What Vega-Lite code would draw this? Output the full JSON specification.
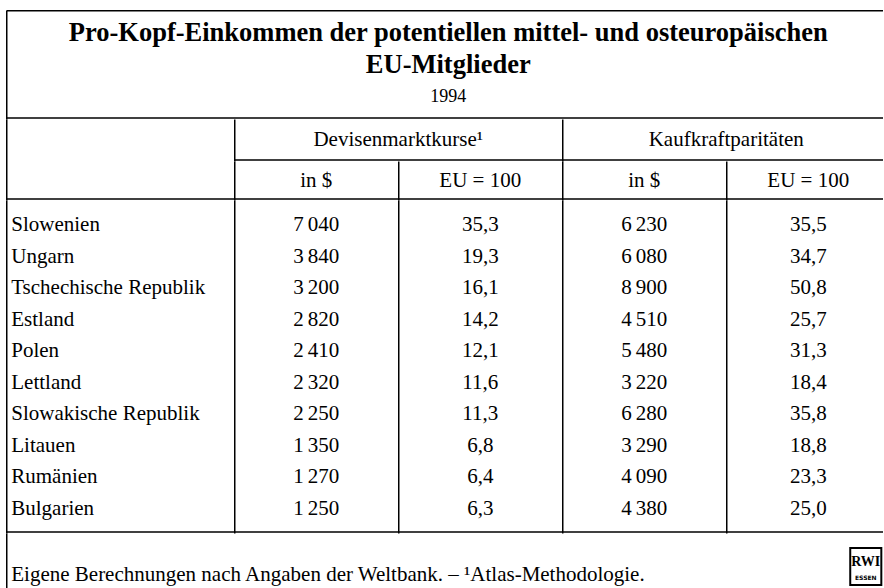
{
  "$schema": "https://vega.github.io/schema/vega-lite/v6.json",
  "background": "white",
  "padding": {"left": 6.25, "top": 10, "right": -7, "bottom": 0},
  "spacing": 0,
  "bounds": "full",
  "datasets": {
    "laender": [
      {"land": "Slowenien", "DM_USD": 7040, "DM_EU": 35.3, "KKP_USD": 6230, "KKP_EU": 35.5},
      {"land": "Ungarn", "DM_USD": 3840, "DM_EU": 19.3, "KKP_USD": 6080, "KKP_EU": 34.7},
      {"land": "Tschechische Republik", "DM_USD": 3200, "DM_EU": 16.1, "KKP_USD": 8900, "KKP_EU": 50.8},
      {"land": "Estland", "DM_USD": 2820, "DM_EU": 14.2, "KKP_USD": 4510, "KKP_EU": 25.7},
      {"land": "Polen", "DM_USD": 2410, "DM_EU": 12.1, "KKP_USD": 5480, "KKP_EU": 31.3},
      {"land": "Lettland", "DM_USD": 2320, "DM_EU": 11.6, "KKP_USD": 3220, "KKP_EU": 18.4},
      {"land": "Slowakische Republik", "DM_USD": 2250, "DM_EU": 11.3, "KKP_USD": 6280, "KKP_EU": 35.8},
      {"land": "Litauen", "DM_USD": 1350, "DM_EU": 6.8, "KKP_USD": 3290, "KKP_EU": 18.8},
      {"land": "Rumänien", "DM_USD": 1270, "DM_EU": 6.4, "KKP_USD": 4090, "KKP_EU": 23.3},
      {"land": "Bulgarien", "DM_USD": 1250, "DM_EU": 6.3, "KKP_USD": 4380, "KKP_EU": 25.0}
    ]
  },
  "vconcat": [
    {
      "width": 884,
      "height": 109,
      "data": {"values": [
        {"zeile": "1", "text": "Pro-Kopf-Einkommen der potentiellen mittel- und osteuropäischen"},
        {"zeile": "2", "text": "EU-Mitglieder"},
        {"zeile": "3", "text": "1994"}
      ]},
      "layer": [
        {
          "transform": [{"filter": "datum.zeile != '3'"}],
          "mark": {"type": "text", "fontSize": 26.5, "fontWeight": "bold"},
          "encoding": {
            "x": {"datum": "Titel", "type": "nominal", "bandPosition": 0.5,
                  "scale": {"type": "band", "paddingInner": 0, "paddingOuter": 0},
                  "axis": {"orient": "top", "offset": -0.25, "domain": true, "grid": true, "bandPosition": 0, "title": null}},
            "y": {"field": "zeile", "type": "nominal",
                  "scale": {"type": "point", "domain": ["1", "2", "3"], "padding": 0.703, "align": 0.511},
                  "axis": null},
            "text": {"field": "text"}
          }
        },
        {
          "transform": [{"filter": "datum.zeile == '3'"}],
          "mark": {"type": "text", "fontSize": 18},
          "encoding": {
            "x": {"datum": "Titel", "type": "nominal", "bandPosition": 0.5,
                  "axis": {"orient": "bottom", "offset": -1.5, "domain": true, "grid": false, "title": null}},
            "y": {"field": "zeile", "type": "nominal"},
            "text": {"field": "text"}
          }
        }
      ],
      "resolve": {"axis": {"x": "independent"}}
    },
    {
      "hconcat": [
        {
          "width": 228,
          "height": 81,
          "data": {"values": [{"spalte": "Land", "kopf": ""}]},
          "mark": "text",
          "encoding": {
            "x": {"field": "spalte", "type": "nominal",
                  "scale": {"type": "band", "paddingInner": 0, "paddingOuter": 0},
                  "axis": {"orient": "bottom", "offset": -1.5, "domain": true, "grid": true, "bandPosition": 0, "title": null}},
            "text": {"field": "kopf"}
          }
        },
        {
          "vconcat": [
            {
              "width": 656,
              "height": 42,
              "data": {"values": [{"gruppe": "Devisenmarktkurse¹"}, {"gruppe": "Kaufkraftparitäten"}]},
              "mark": "text",
              "encoding": {
                "x": {"field": "gruppe", "type": "nominal", "bandPosition": 0.5,
                      "scale": {"type": "band", "domain": ["Devisenmarktkurse¹", "Kaufkraftparitäten"], "paddingInner": 0, "paddingOuter": 0},
                      "axis": {"orient": "bottom", "offset": -1.5, "domain": true, "grid": true, "bandPosition": 0, "title": null}},
                "text": {"field": "gruppe"}
              }
            },
            {
              "width": 656,
              "height": 39,
              "data": {"values": [
                {"spalte": "DM_USD", "einheit": "in $"},
                {"spalte": "DM_EU", "einheit": "EU = 100"},
                {"spalte": "KKP_USD", "einheit": "in $"},
                {"spalte": "KKP_EU", "einheit": "EU = 100"}
              ]},
              "mark": "text",
              "encoding": {
                "x": {"field": "spalte", "type": "nominal", "bandPosition": 0.5,
                      "scale": {"type": "band", "domain": ["DM_USD", "DM_EU", "KKP_USD", "KKP_EU"], "paddingInner": 0, "paddingOuter": 0},
                      "axis": {"orient": "bottom", "offset": -1.5, "domain": true, "grid": true, "bandPosition": 0, "title": null}},
                "text": {"field": "einheit"}
              }
            }
          ],
          "spacing": 0,
          "bounds": "flush"
        }
      ],
      "spacing": 0,
      "bounds": "flush"
    },
    {
      "hconcat": [
        {
          "width": 228,
          "height": 333,
          "data": {"name": "laender"},
          "mark": {"type": "text", "align": "left", "dx": 5},
          "encoding": {
            "x": {"datum": "Land", "type": "nominal", "bandPosition": 0,
                  "scale": {"type": "band", "paddingInner": 0, "paddingOuter": 0},
                  "axis": {"orient": "bottom", "offset": -1.5, "domain": true, "grid": true, "bandPosition": 0, "title": null}},
            "y": {"field": "land", "type": "nominal",
                  "scale": {"type": "point", "domain": ["Slowenien", "Ungarn", "Tschechische Republik", "Estland", "Polen", "Lettland", "Slowakische Republik", "Litauen", "Rumänien", "Bulgarien"], "padding": 0.776, "align": 0.51},
                  "axis": null},
            "text": {"field": "land"}
          }
        },
        {
          "width": 656,
          "height": 333,
          "data": {"name": "laender"},
          "transform": [{"fold": ["DM_USD", "DM_EU", "KKP_USD", "KKP_EU"], "as": ["spalte", "wert"]}],
          "encoding": {
            "x": {"field": "spalte", "type": "nominal", "bandPosition": 0.5,
                  "scale": {"type": "band", "domain": ["DM_USD", "DM_EU", "KKP_USD", "KKP_EU"], "paddingInner": 0, "paddingOuter": 0},
                  "axis": {"orient": "bottom", "offset": -1.5, "domain": true, "grid": true, "bandPosition": 0, "title": null}},
            "y": {"field": "land", "type": "nominal",
                  "scale": {"type": "point", "domain": ["Slowenien", "Ungarn", "Tschechische Republik", "Estland", "Polen", "Lettland", "Slowakische Republik", "Litauen", "Rumänien", "Bulgarien"], "padding": 0.776, "align": 0.51},
                  "axis": null}
          },
          "layer": [
            {
              "transform": [{"filter": "datum.spalte == 'DM_USD' || datum.spalte == 'KKP_USD'"}],
              "mark": "text",
              "encoding": {"text": {"field": "wert", "type": "quantitative", "format": ",d"}}
            },
            {
              "transform": [{"filter": "datum.spalte == 'DM_EU' || datum.spalte == 'KKP_EU'"}],
              "mark": "text",
              "encoding": {"text": {"field": "wert", "type": "quantitative", "format": ".1f"}}
            }
          ]
        }
      ],
      "spacing": 0,
      "bounds": "flush"
    },
    {
      "hconcat": [
        {
          "width": 228,
          "height": 55,
          "data": {"values": [{"quelle": "Eigene Berechnungen nach Angaben der Weltbank. – ¹Atlas-Methodologie."}]},
          "mark": {"type": "text", "align": "left", "dx": 5},
          "encoding": {
            "x": {"datum": "Quelle", "type": "nominal", "bandPosition": 0,
                  "scale": {"type": "band", "paddingInner": 0, "paddingOuter": 0},
                  "axis": {"orient": "bottom", "domain": false, "grid": true, "bandPosition": 0, "title": null}},
            "y": {"datum": "Quelle", "type": "nominal", "scale": {"type": "point", "align": 0.764}, "axis": null},
            "text": {"field": "quelle"}
          }
        },
        {
          "width": 656,
          "height": 55,
          "data": {"values": [{"logo": "RWI", "ort": "ESSEN"}]},
          "encoding": {
            "x": {"datum": "Logo", "type": "nominal", "scale": {"type": "point", "align": 0.9627}, "axis": null},
            "y": {"datum": "Logo", "type": "nominal", "scale": {"type": "point", "align": 0.609}, "axis": null}
          },
          "layer": [
            {"mark": {"type": "point", "shape": "M-0.84,-1H0.84V1H-0.84Z", "size": 1369, "filled": false, "stroke": "#000", "strokeWidth": 2, "opacity": 1}},
            {"mark": {"type": "text", "fontSize": 14, "fontWeight": "bold", "dy": -4}, "encoding": {"text": {"field": "logo"}}},
            {"mark": {"type": "text", "fontSize": 6, "font": "DejaVu Sans", "fontWeight": "bold", "dy": 12}, "encoding": {"text": {"field": "ort"}}}
          ]
        }
      ],
      "spacing": 0,
      "bounds": "flush"
    }
  ],
  "config": {
    "view": {"stroke": null},
    "font": "Liberation Serif",
    "text": {"font": "Liberation Serif", "fontSize": 21, "fill": "#000"},
    "axis": {"domainColor": "#000", "domainWidth": 1.5, "gridColor": "#000", "gridWidth": 1.5, "gridOpacity": 1, "ticks": false, "labels": false},
    "concat": {"spacing": 0},
    "locale": {"number": {"decimal": ",", "thousands": "\u2009", "grouping": [3], "currency": ["", " $"]}}
  }
}
